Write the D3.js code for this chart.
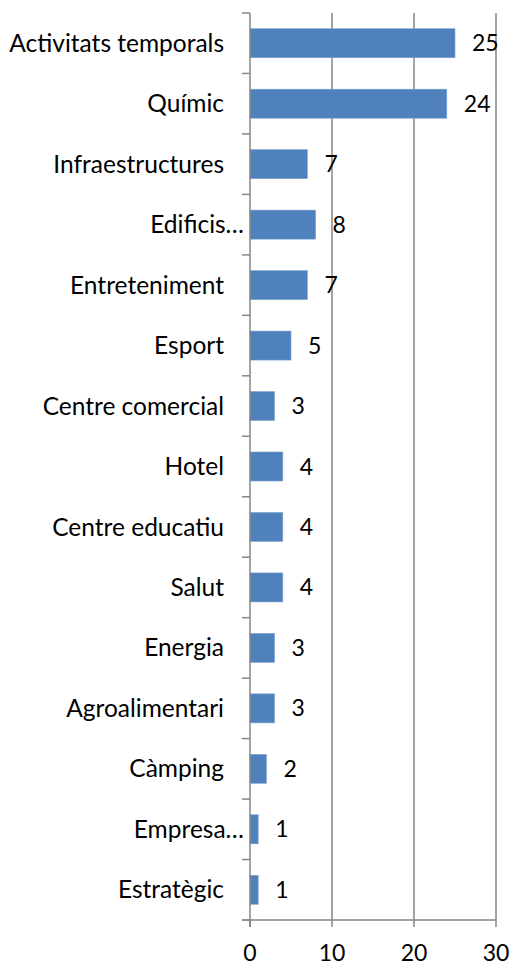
<!DOCTYPE html>
<html>
<head>
<meta charset="utf-8">
<script src="https://cdn.jsdelivr.net/npm/d3@7"></script>
<style>
  body { margin: 0; background: #fff; }
  text { font-family: Lato, "Open Sans", sans-serif; fill: #000; }
</style>
</head>
<body>
<svg id="chart" width="512" height="967"></svg>
<script>
const categories = [
    'Activitats temporals', 'Químic', 'Infraestructures', 'Edificis…', 'Entreteniment',
    'Esport', 'Centre comercial', 'Hotel', 'Centre educatiu', 'Salut',
    'Energia', 'Agroalimentari', 'Càmping', 'Empresa…', 'Estratègic'
];
const values = [25, 24, 7, 8, 7, 5, 3, 4, 4, 4, 3, 3, 2, 1, 1];
const xTicks = [0, 10, 20, 30];

const svg = d3.select('#chart');
const plotLeft = 250, plotRight = 496, plotTop = 13, plotBottom = 920;
const fontSize = 23;

const x = d3.scaleLinear().domain([0, 30]).range([plotLeft, plotRight]);
const y = d3.scaleBand().domain(categories).range([plotTop, plotBottom]).paddingInner(0.52).paddingOuter(0.26);
const band = (plotBottom - plotTop) / categories.length;

// gridlines
svg.append('g')
    .selectAll('line')
    .data(xTicks.slice(1))
    .join('line')
    .attr('x1', d => x(d))
    .attr('x2', d => x(d))
    .attr('y1', plotTop)
    .attr('y2', plotBottom)
    .attr('stroke', '#868686')
    .attr('stroke-width', 1.5);

// bars
svg.append('g')
    .selectAll('rect')
    .data(values)
    .join('rect')
    .attr('x', x(0))
    .attr('y', (_, i) => y(categories[i]))
    .attr('width', d => x(d) - x(0))
    .attr('height', y.bandwidth())
    .attr('fill', '#4F81BD')
    .attr('stroke', '#7FA3D1')
    .attr('stroke-width', 0.6);

// value labels
svg.append('g')
    .selectAll('text')
    .data(values)
    .join('text')
    .attr('x', d => x(d) + 17)
    .attr('y', (_, i) => y(categories[i]) + y.bandwidth() / 2)
    .attr('dy', '0.35em')
    .attr('font-size', fontSize)
    .text(d => d);

// x axis
const xAxis = svg.append('g').attr('transform', `translate(0, ${plotBottom})`);
xAxis.append('line')
    .attr('x1', plotLeft - 8).attr('x2', plotRight)
    .attr('stroke', '#868686').attr('stroke-width', 1.5);
xAxis.selectAll('.tick')
    .data(xTicks)
    .join('line')
    .attr('x1', d => x(d)).attr('x2', d => x(d))
    .attr('y1', 0).attr('y2', 7)
    .attr('stroke', '#868686').attr('stroke-width', 1.5);
xAxis.selectAll('text')
    .data(xTicks)
    .join('text')
    .attr('x', d => x(d))
    .attr('y', 41)
    .attr('text-anchor', 'middle')
    .attr('font-size', fontSize)
    .text(d => d);

// y axis
const yAxis = svg.append('g');
yAxis.append('line')
    .attr('x1', plotLeft).attr('x2', plotLeft)
    .attr('y1', plotTop).attr('y2', plotBottom + 7)
    .attr('stroke', '#868686').attr('stroke-width', 1.5);
yAxis.selectAll('.tick')
    .data(d3.range(categories.length + 1))
    .join('line')
    .attr('x1', plotLeft - 8).attr('x2', plotLeft)
    .attr('y1', i => plotTop + i * band).attr('y2', i => plotTop + i * band)
    .attr('stroke', '#868686').attr('stroke-width', 1.5);
yAxis.selectAll('text')
    .data(categories)
    .join('text')
    .attr('x', d => d.endsWith('…') ? 244 : 224)
    .attr('y', d => y(d) + y.bandwidth() / 2)
    .attr('dy', '0.35em')
    .attr('text-anchor', 'end')
    .attr('font-size', 24.5)
    .text(d => d);
</script>
</body>
</html>
